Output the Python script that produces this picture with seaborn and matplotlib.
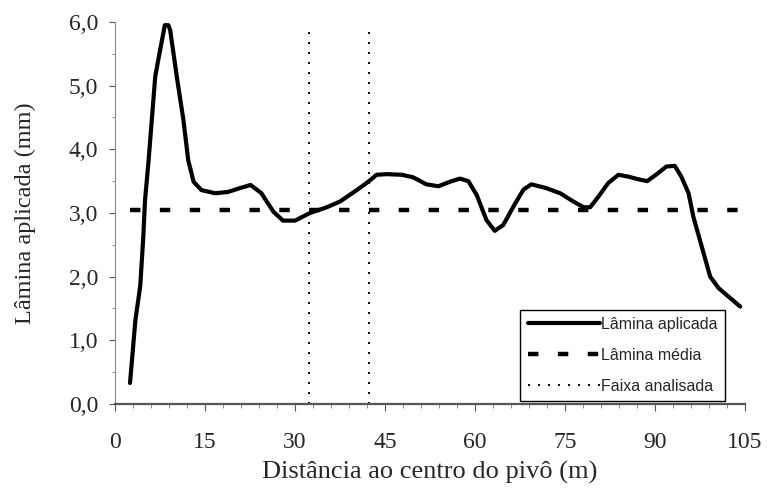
import matplotlib
matplotlib.use("Agg")
import matplotlib.pyplot as plt
from matplotlib.ticker import MultipleLocator, FixedLocator
import seaborn as sns
import pandas as pd

# Applied depth along the pivot lateral
distancia = [2.5, 3.4, 4.2, 4.7, 5.0, 5.6, 6.7, 7.2, 8.3, 8.9, 9.2, 10.3, 11.4, 12.2,
             13.1, 14.4, 16.7, 18.8, 20.8, 22.6, 24.4, 26.4, 28.0, 30.0, 32.5, 35.3,
             37.5, 40.3, 42.2, 43.6, 45.3, 47.8, 49.7, 51.9, 53.9, 55.8, 57.5, 58.9,
             60.3, 61.9, 63.3, 64.7, 66.7, 68.1, 69.4, 71.9, 74.2, 76.4, 78.1, 79.2,
             80.6, 82.2, 83.9, 85.6, 87.2, 88.7, 90.3, 91.9, 93.3, 94.4, 95.6, 96.4,
             97.8, 99.2, 100.6, 104.2]
lamina = [0.33, 1.32, 1.85, 2.6, 3.2, 3.83, 5.14, 5.4, 5.95, 5.95, 5.87, 5.14, 4.46, 3.83,
          3.49, 3.36, 3.31, 3.33, 3.39, 3.44, 3.31, 3.02, 2.88, 2.88, 3.0, 3.09,
          3.18, 3.36, 3.49, 3.6, 3.61, 3.6, 3.56, 3.45, 3.42, 3.49, 3.54, 3.5,
          3.28, 2.89, 2.72, 2.81, 3.15, 3.37, 3.45, 3.39, 3.31, 3.18, 3.09, 3.09,
          3.26, 3.47, 3.6, 3.57, 3.53, 3.5, 3.61, 3.73, 3.74, 3.57, 3.31, 2.94,
          2.47, 2.0, 1.82, 1.53]

# Mean depth and analysed strip limits
media_x = [2.5, 104.5]
media_y = [3.05, 3.05]
faixa = [32.3, 42.3]

x_ticks = [0, 15, 30, 45, 60, 75, 90, 105]
y_ticks = [0.0, 1.0, 2.0, 3.0, 4.0, 5.0, 6.0]
y_tick_labels = ["0,0", "1,0", "2,0", "3,0", "4,0", "5,0", "6,0"]

sns.set_theme(style="ticks")
plt.rcParams["font.family"] = ["Liberation Serif", "DejaVu Serif"]
plt.rcParams["lines.scale_dashes"] = False

fig = plt.figure(figsize=(7.74, 4.92), dpi=100)
ax = fig.add_axes([0.1486, 0.1789, 0.8139, 0.7764])

df = pd.DataFrame({"x": distancia, "y": lamina})
sns.lineplot(data=df, x="x", y="y", ax=ax, color="black", linewidth=3.0,
             label="Lâmina aplicada", sort=False)
ax.lines[-1].set_solid_joinstyle("round")
ax.lines[-1].set_solid_capstyle("round")

dm = pd.DataFrame({"x": media_x, "y": media_y})
sns.lineplot(data=dm, x="x", y="y", ax=ax, color="black", linewidth=3.2,
             dashes=False, label="Lâmina média")
ax.lines[-1].set_dashes((7.5, 14.0))
ax.lines[-1].set_dash_capstyle("butt")

for i, xv in enumerate(faixa):
    ax.axvline(xv, ymin=0, ymax=0.995, color="black", linewidth=1.4,
               dashes=(1.4, 5.8), label="Faixa analisada" if i == 0 else None)

ax.set_xlim(0, 105)
ax.set_ylim(0, 6)
ax.xaxis.set_major_locator(FixedLocator(x_ticks))
ax.xaxis.set_minor_locator(MultipleLocator(3))
ax.yaxis.set_major_locator(FixedLocator(y_ticks))
ax.set_yticklabels(y_tick_labels)
ax.yaxis.set_minor_locator(MultipleLocator(0.5))

ax.tick_params(axis="x", which="major", direction="out", length=5, width=0.8,
               color="#555555", labelsize=17, pad=15)
ax.tick_params(axis="x", which="minor", direction="out", length=3, width=0.6,
               color="#777777")
ax.tick_params(axis="y", which="major", direction="out", length=4, width=0.8,
               color="#555555", labelsize=17, pad=8)
ax.tick_params(axis="y", which="minor", direction="out", length=2.5, width=0.6,
               color="#777777")

for s in ["top", "right"]:
    ax.spines[s].set_visible(False)
ax.spines["left"].set_color("#8a8a8a")
ax.spines["left"].set_linewidth(0.8)
ax.spines["bottom"].set_color("#555555")
ax.spines["bottom"].set_linewidth(1.6)

ax.set_xlabel("Distância ao centro do pivô (m)", fontsize=19, labelpad=6)
ax.set_ylabel("Lâmina aplicada (mm)", fontsize=17.5, labelpad=24)

leg = ax.legend(loc="lower right", bbox_to_anchor=(0.968, 0.008),
                borderaxespad=0, frameon=True, fancybox=False, framealpha=1,
                edgecolor="black", handlelength=4.5, handletextpad=0.1,
                labelspacing=1.0, borderpad=0.45,
                prop={"family": ["Liberation Sans", "DejaVu Sans"], "size": 11.5})
leg.get_frame().set_linewidth(1.0)

fig.savefig("out.png", dpi=100, facecolor="white")
